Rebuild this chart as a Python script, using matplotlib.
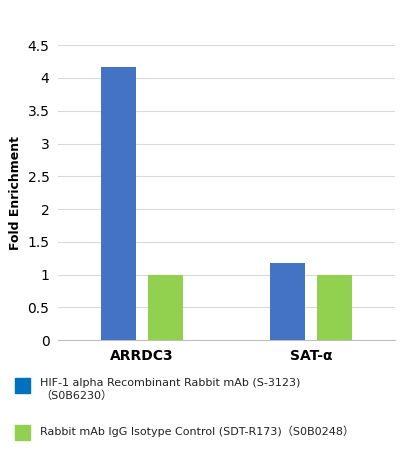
import matplotlib
matplotlib.use("Agg")
import matplotlib.pyplot as plt
from matplotlib.patches import Rectangle

categories = ["ARRDC3", "SAT-α"]
hif = [4.17, 1.17]
igg = [1.0, 1.0]
yticks = [0, 0.5, 1, 1.5, 2, 2.5, 3, 3.5, 4, 4.5]
ytick_labels = ["0", "0.5", "1", "1.5", "2", "2.5", "3", "3.5", "4", "4.5"]
legend_labels = ["HIF-1 alpha Recombinant Rabbit mAb (S-3123)\n（S0B6230）",
                 "Rabbit mAb IgG Isotype Control (SDT-R173)（S0B0248）"]
blue = "#4472C4"
green = "#92D050"

plt.rcParams['font.family'] = ['DejaVu Sans', 'Noto Sans CJK SC']
fig = plt.figure(figsize=(4.16, 4.66), dpi=100)
ax = fig.add_axes([0.139, 0.270, 0.811, 0.633])
x = [0, 1]
w = 0.21
ax.bar([i - 0.14 for i in x], hif, w, color=blue, zorder=3)
ax.bar([i + 0.14 for i in x], igg, w, color=green, zorder=3)
ax.set_xlim(-0.5, 1.5)
ax.set_ylim(0, 4.5)
ax.set_yticks(yticks)
ax.set_yticklabels(ytick_labels, fontsize=10)
ax.set_xticks(x)
ax.set_xticklabels(categories, fontsize=10, fontweight='bold')
ax.grid(axis='y', color='#d9d9d9', lw=0.8, zorder=0)
for s in ['top', 'right', 'left']:
    ax.spines[s].set_visible(False)
ax.spines['bottom'].set_color('#bfbfbf')
ax.tick_params(length=0, pad=6)
ax.set_ylabel("Fold Enrichment", fontsize=9, fontweight='bold')

for yy, lab, col in [(378, legend_labels[0], "#0070C0"), (425, legend_labels[1], green)]:
    fig.patches.append(Rectangle((15/416, 1-(yy+15)/466), 15/416, 15/466,
                                 transform=fig.transFigure, color=col))
    fig.text(40/416, 1-(yy)/466, lab, fontsize=8, va='top', ha='left', color='#222222',
             linespacing=1.3)
fig.savefig("out.png", dpi=100)
